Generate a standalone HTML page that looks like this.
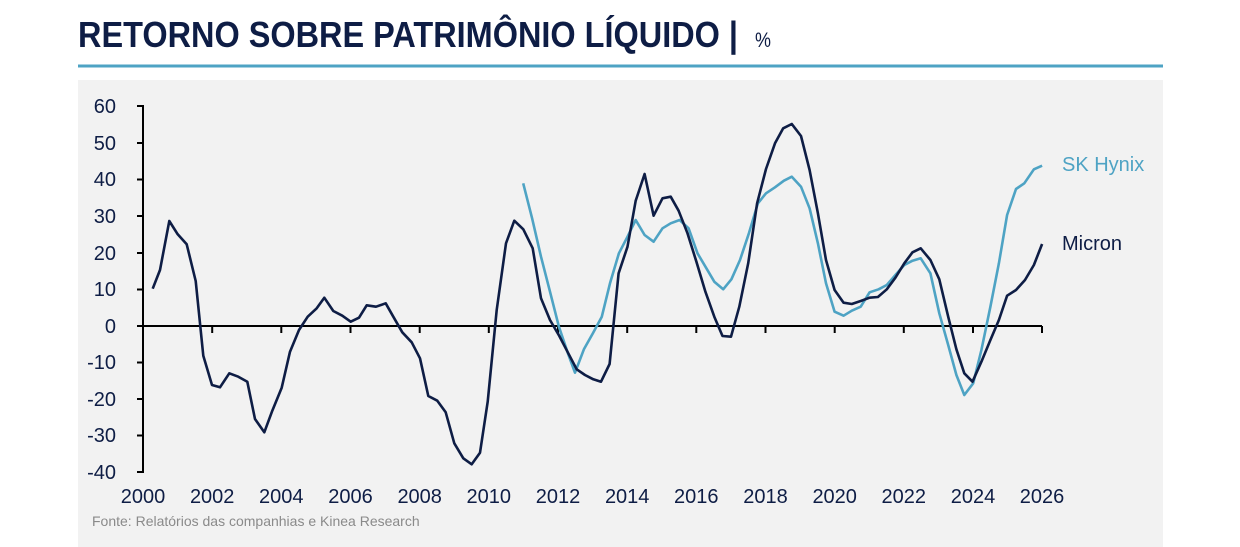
<!DOCTYPE html>
<html><head><meta charset="utf-8"><style>body{margin:0;background:#fff}svg{display:block}</style></head><body>
<svg width="1240" height="547" viewBox="0 0 1240 547" xmlns="http://www.w3.org/2000/svg" font-family="Liberation Sans, sans-serif">
<text x="78" y="47" font-size="36" font-weight="bold" fill="#0e1d45" textLength="660" lengthAdjust="spacingAndGlyphs">RETORNO SOBRE PATRIMÔNIO LÍQUIDO |</text>
<text x="755" y="47" font-size="21" fill="#0e1d45" textLength="16" lengthAdjust="spacingAndGlyphs">%</text>
<rect x="78" y="64.5" width="1085" height="3" fill="#4ea3c4"/>
<rect x="78" y="80" width="1085" height="467" fill="#f2f2f2"/>
<g stroke="#000" stroke-width="2" fill="none">
<path d="M137 106H143V472H137M137 143H143M137 179.5H143M137 216H143M137 253H143M137 289.5H143M137 326H143M137 362.5H143M137 399H143M137 435.5H143"/>
<path d="M143 326H1042"/>
<path d="M212.2 326v7M281.3 326v7M350.5 326v7M419.7 326v7M488.8 326v7M558 326v7M627.2 326v7M696.3 326v7M765.5 326v7M834.7 326v7M903.8 326v7M973 326v7M1042 326v7"/>
</g>
<g font-size="20" fill="#0e1d45" text-anchor="end">
<text x="116" y="113">60</text><text x="116" y="150">50</text><text x="116" y="186">40</text><text x="116" y="223">30</text><text x="116" y="260">20</text><text x="116" y="296">10</text><text x="116" y="333">0</text><text x="116" y="369">-10</text><text x="116" y="406">-20</text><text x="116" y="442">-30</text><text x="116" y="479">-40</text>
</g>
<g font-size="20" fill="#0e1d45" text-anchor="middle">
<text x="143" y="503">2000</text><text x="212.2" y="503">2002</text><text x="281.3" y="503">2004</text><text x="350.5" y="503">2006</text><text x="419.7" y="503">2008</text><text x="488.8" y="503">2010</text><text x="558" y="503">2012</text><text x="627.2" y="503">2014</text><text x="696.3" y="503">2016</text><text x="765.5" y="503">2018</text><text x="834.7" y="503">2020</text><text x="903.8" y="503">2022</text><text x="973" y="503">2024</text><text x="1042" y="503">2026</text>
</g>
<text x="92" y="526" font-size="14" fill="#8a8a8a">Fonte: Relatórios das companhias e Kinea Research</text>
<polyline fill="none" stroke="#4ea3c4" stroke-width="2.6" stroke-linejoin="round" points="523.2,183.3 532.1,218.3 541,256.7 550,291.7 558.9,326.7 567.9,353.3 575,372.7 583.9,349.3 592.9,333.3 601.8,316.7 610,283.3 618.9,253.3 627.5,236.7 635.7,220 644.6,235 653.6,241.7 662.5,228.3 670.7,223.3 679.6,220 688.6,228.3 697.5,253.3 706.4,268.3 714.3,281.7 723.2,289.3 731.4,279.3 740,260 748.9,233.3 757.9,203.3 766,193.3 775,187.3 783.9,180.7 791.8,176.7 801,186.7 809.6,208.3 817.9,243.3 826,283.3 834.6,311.7 843.6,315.7 851.8,310.7 860.7,306.7 869.6,292.3 878.6,289.3 886.8,285 895.4,275 904.3,265 912.5,260.7 920.7,258.3 930.4,273.3 939.3,313.3 948.2,345 956.4,375 964.3,395 973.2,383.3 981.4,350 990.4,306.7 998.9,263.3 1007.1,215 1016,189 1024.3,183.3 1033.9,169.3 1042.1,165.7"/>
<polyline fill="none" stroke="#0e1d45" stroke-width="2.6" stroke-linejoin="round" points="152.7,288.7 160,270 169.3,221 177.7,234.3 186.7,244.3 195.7,281 203.3,355.7 212,385 220,387.3 229.3,373.3 238.3,376.7 247.3,381.7 255,419 264.3,432.3 272.3,410.7 281.7,387.7 290,351.7 299,330 307.7,316.7 316.7,308.3 324.3,297.7 333.3,311 342.3,315.7 350.7,321.7 359,317.7 366.7,305.3 376,306.7 385.7,303.3 393.3,316.7 402.3,332.3 411.7,342.3 420,358.3 428.3,396 437.3,400.7 445.7,412.3 454.3,443.3 463.3,458.3 471.7,464.3 480,452.7 487.7,401.7 496.7,310 506,243.3 514.3,220.7 523.3,229.3 532.7,248.3 541,298.3 550,320 559.3,336 568.3,353.3 576.7,369.3 585,375 593.3,379.3 601,381.7 609.6,364 618.6,273.3 627.5,246.7 635.7,200.7 644.6,174 653.6,215.7 662.5,198.3 670.7,196.7 678.6,210.7 687.5,233.3 696.4,261.7 705.4,291.7 714.3,316.7 722.5,336 731,336.7 739.3,306.7 748.2,263.3 757.1,203.3 766,169 775,143.3 783.2,128.3 791.8,124 801,136 809.6,170 817.9,213.3 826,260 834.6,290 843.6,302.7 851.8,304 860.7,301 869.6,297.7 877.9,297 886.8,289.3 895.4,277.7 904.3,263.3 912.5,252.3 920.7,248.3 930.4,260 939.3,279.3 948.2,316.7 956.4,349.3 964.3,373.3 972.5,381.7 981.4,361.7 990.4,340 998.9,320 1007.1,295.7 1016,290 1025,280 1033.9,265 1042.1,244"/>
<text x="1062" y="171" font-size="20" fill="#4ea3c4">SK Hynix</text>
<text x="1062" y="250" font-size="20" fill="#0e1d45">Micron</text>
</svg>
</body></html>
